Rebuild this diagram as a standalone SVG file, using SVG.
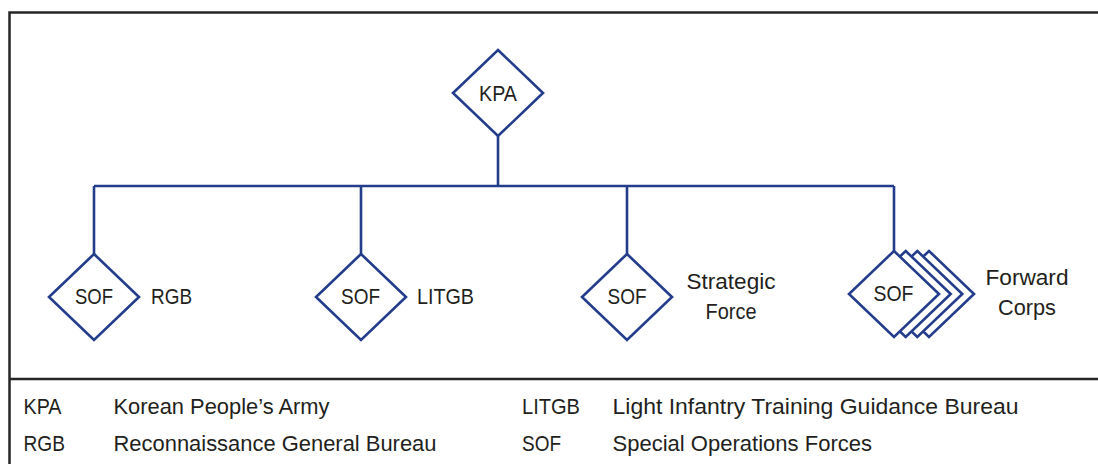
<svg xmlns="http://www.w3.org/2000/svg" width="1098" height="464" viewBox="0 0 1098 464">
<style>
.frame{fill:none;stroke:#262626;stroke-width:2.5}
.dia{fill:#fff;stroke:#233d8c;stroke-width:2.6;stroke-linejoin:miter}
.con{fill:none;stroke:#233d8c;stroke-width:2.6}
text{font-family:"Liberation Sans",Arial,sans-serif;font-size:22.5px;fill:#231f20}
.c{text-anchor:middle}
</style>
<defs>
<polygon id="d" points="0,-43 45,0 0,43 -45,0"/>
</defs>
<rect width="1098" height="464" fill="#fff"/>
<g id="frame">
<path class="frame" d="M9.5,464 V12.5 H1098"/>
<path class="frame" d="M9.5,379 H1098"/>
</g>
<g id="connectors">
<path class="con" d="M498,136 V186"/>
<path class="con" d="M94,186 H894"/>
<path class="con" d="M94,186 V254"/>
<path class="con" d="M361,186 V254"/>
<path class="con" d="M627,186 V254"/>
<path class="con" d="M894,186 V251"/>
</g>
<g id="kpa">
<use href="#d" class="dia" x="498" y="93"/>
<text class="c" x="498" y="101" textLength="38" lengthAdjust="spacingAndGlyphs">KPA</text>
</g>
<g id="rgb">
<use href="#d" class="dia" x="94" y="297"/>
<text class="c" x="94" y="304" textLength="38" lengthAdjust="spacingAndGlyphs">SOF</text>
<text x="151" y="304" textLength="41" lengthAdjust="spacingAndGlyphs">RGB</text>
</g>
<g id="litgb">
<use href="#d" class="dia" x="361" y="297"/>
<text class="c" x="360.5" y="304" textLength="39" lengthAdjust="spacingAndGlyphs">SOF</text>
<text x="417" y="304" textLength="57" lengthAdjust="spacingAndGlyphs">LITGB</text>
</g>
<g id="strategic">
<use href="#d" class="dia" x="627" y="297"/>
<text class="c" x="627" y="304" textLength="39" lengthAdjust="spacingAndGlyphs">SOF</text>
<text class="c" x="731" y="289" textLength="89" lengthAdjust="spacingAndGlyphs">Strategic</text>
<text class="c" x="731" y="319" textLength="51" lengthAdjust="spacingAndGlyphs">Force</text>
</g>
<g id="forward">
<use href="#d" class="dia" x="929" y="294"/>
<use href="#d" class="dia" x="917.3" y="294"/>
<use href="#d" class="dia" x="905.7" y="294"/>
<use href="#d" class="dia" x="894" y="294"/>
<text class="c" x="893.5" y="301" textLength="40" lengthAdjust="spacingAndGlyphs">SOF</text>
<text class="c" x="1027" y="285" textLength="83" lengthAdjust="spacingAndGlyphs">Forward</text>
<text class="c" x="1027" y="315" textLength="58" lengthAdjust="spacingAndGlyphs">Corps</text>
</g>
<g id="legend">
<text x="23.5" y="414" textLength="38" lengthAdjust="spacingAndGlyphs">KPA</text>
<text x="113.5" y="414" textLength="216" lengthAdjust="spacingAndGlyphs">Korean People’s Army</text>
<text x="23.5" y="451" textLength="41.5" lengthAdjust="spacingAndGlyphs">RGB</text>
<text x="113.5" y="451" textLength="323" lengthAdjust="spacingAndGlyphs">Reconnaissance General Bureau</text>
<text x="522" y="414" textLength="58" lengthAdjust="spacingAndGlyphs">LITGB</text>
<text x="612.5" y="414" textLength="406" lengthAdjust="spacingAndGlyphs">Light Infantry Training Guidance Bureau</text>
<text x="522" y="451" textLength="39" lengthAdjust="spacingAndGlyphs">SOF</text>
<text x="612.5" y="451" textLength="259.5" lengthAdjust="spacingAndGlyphs">Special Operations Forces</text>
</g>
</svg>
